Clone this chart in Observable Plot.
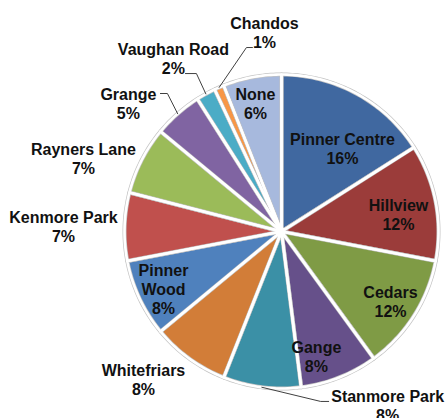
<!DOCTYPE html>
<html>
<head>
<meta charset="utf-8">
<script src="https://cdn.jsdelivr.net/npm/d3@7"></script>
<script src="https://cdn.jsdelivr.net/npm/@observablehq/plot@0.6"></script>
<style>
  html, body { margin: 0; padding: 0; background: #fff; }
</style>
</head>
<body>
<div id="chart"></div>
<script>
// ---- data ----
const names = ["Pinner Centre", "Hillview", "Cedars", "Gange", "Stanmore Park", "Whitefriars",
  "Pinner Wood", "Kenmore Park", "Rayners Lane", "Grange", "Vaughan Road", "Chandos", "None"];
const values = [16, 12, 12, 8, 8, 8, 8, 7, 7, 5, 2, 1, 6];
const labelNames = ["Pinner Centre", "Hillview", "Cedars", "Gange", "Stanmore Park", "Whitefriars",
  "Pinner\nWood", "Kenmore Park", "Rayners Lane", "Grange", "Vaughan Road", "Chandos", "None"];
const colors = ["#4068A0", "#9B3C3A", "#7F9B45", "#66508A", "#3B90A6", "#D27D38",
  "#4F81BD", "#C0504D", "#9BBB59", "#8064A2", "#4BACC6", "#F79646", "#A7B9DD"];

// ---- label layout (polar: angle in degrees clockwise from top, radius as fraction of pie radius) ----
const labelLayout = {
  "Pinner Centre": [36.3, 0.656], "Hillview": [81.7, 0.753], "Cedars": [122.7, 0.825],
  "Gange": [164.4, 0.827], "Stanmore Park": [148.6, 1.298], "Whitefriars": [223.0, 1.289],
  "Pinner Wood": [244.2, 0.835], "Kenmore Park": [271.3, 1.389], "Rayners Lane": [290.2, 1.344],
  "Grange": [309.9, 1.271], "Vaughan Road": [328.0, 1.299], "Chandos": [355.1, 1.272], "None": [348.5, 0.832]
};
// leader lines: [elbow offset, end offset] from label center, in pixels
const leaderLayout = {
  "Chandos": [[-18, 15], [-12, 15]],
  "Vaughan Road": [[23, 15], [12, 15]],
  "Grange": [[39, -10], [32, -10]],
  "Stanmore Park": [[-67, -4], [-59, -4]]
};

const R = 157, CX = 281, CY = 231;
const total = d3.sum(values);
const rad = deg => deg * Math.PI / 180;
const polar = (deg, r) => [r * Math.sin(rad(deg)), r * Math.cos(rad(deg))];

// slice polygons
const slicePts = [];
let acc = 0;
const mids = {};
names.forEach((n, i) => {
  const a0 = acc / total * 360, a1 = (acc + values[i]) / total * 360;
  acc += values[i];
  mids[n] = (a0 + a1) / 2;
  slicePts.push({name: n, x: 0, y: 0});
  const steps = Math.max(2, Math.ceil(a1 - a0));
  for (let k = 0; k <= steps; k++) {
    const [x, y] = polar(a0 + (a1 - a0) * k / steps, 1);
    slicePts.push({name: n, x, y});
  }
  slicePts.push({name: n, x: 0, y: 0});
});

// labels
const labels = names.map((n, i) => {
  const [ang, r] = labelLayout[n];
  const [x, y] = polar(ang, r);
  return {name: n, x, y, text: `${labelNames[i]}\n${values[i]}%`};
});

// leader lines
const leaders = [];
Object.entries(leaderLayout).forEach(([n, [elbow, end]]) => {
  const lab = labels.find(l => l.name === n);
  const [ex, ey] = polar(mids[n], 1);
  leaders.push({name: n, x: ex, y: ey});
  leaders.push({name: n, x: lab.x + elbow[0] / R, y: lab.y - elbow[1] / R});
  leaders.push({name: n, x: lab.x + end[0] / R, y: lab.y - end[1] / R});
});

const chart = Plot.plot({
  width: 445,
  height: 418,
  margin: 0,
  x: {domain: [-1, 1], range: [CX - R, CX + R], axis: null},
  y: {domain: [-1, 1], range: [CY + R, CY - R], axis: null},
  color: {domain: names, range: colors},
  style: {fontFamily: "'Liberation Sans', Arial, sans-serif", background: "#fff"},
  marks: [
    Plot.line(slicePts, {x: "x", y: "y", z: "name", fill: "name", stroke: "#c4c4c4", strokeWidth: 4, strokeLinejoin: "round", curve: "linear"}),
    Plot.line(slicePts, {x: "x", y: "y", z: "name", stroke: "#ffffff", strokeWidth: 2.6, strokeLinejoin: "round", curve: "linear"}),
    Plot.dot([{x: 0, y: 0}], {x: "x", y: "y", r: 4, fill: "#fff", stroke: "none"}),
    Plot.line(leaders, {x: "x", y: "y", z: "name", stroke: "#404040", strokeWidth: 1}),
    Plot.text(labels, {x: "x", y: "y", text: "text", fontSize: 16, fontWeight: "bold", fill: "#111", lineHeight: 1.2})
  ]
});
document.getElementById("chart").appendChild(chart);
</script>
</body>
</html>
